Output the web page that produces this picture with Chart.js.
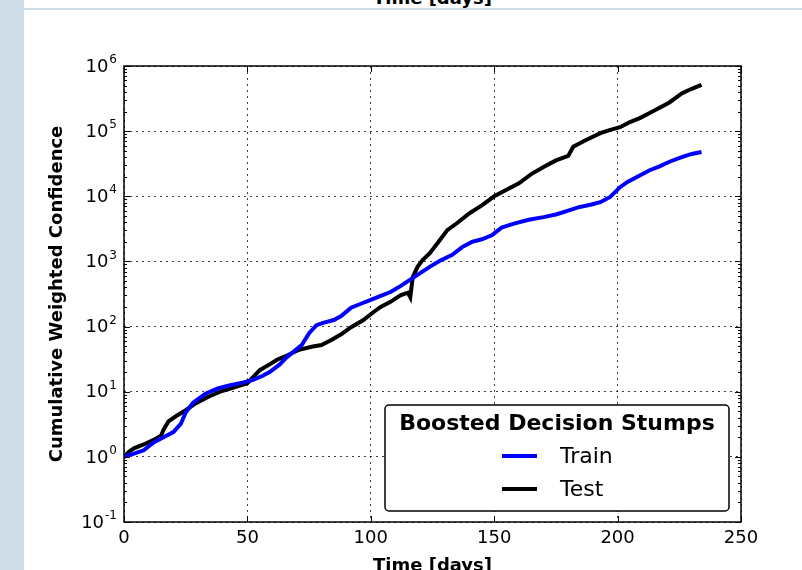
<!DOCTYPE html>
<html>
<head>
<meta charset="utf-8">
<script src="https://cdn.jsdelivr.net/npm/chart.js@4/dist/chart.umd.min.js"></script>
<style>
  html, body { margin: 0; padding: 0; background: #fff; }
  #wrap { position: relative; width: 802px; height: 570px; overflow: hidden; }
  #strip { position: absolute; left: 0; top: 0; width: 24px; height: 570px; background: #cfdde9; }
  #topline { position: absolute; left: 24px; top: 8px; width: 778px; height: 2px; background: #cfdde9; }
  #cut { position: absolute; left: 0; width: 865px; top: -13px; text-align: center;
         font: bold 18px 'DejaVu Sans'; color: #000; }
  canvas { position: absolute; left: 0; top: 0; }
</style>
</head>
<body>
<div id="wrap">
  <div id="cut">Time [days]</div>
  <div id="topline"></div>
  <div id="strip"></div>
  <canvas id="chart" width="802" height="570"></canvas>
</div>
<script>
// values
const trainDays = [0, 4, 8, 12, 16, 20, 23, 25, 28, 33, 38, 43, 48, 52, 56, 59, 63, 66, 69, 72, 75, 78, 81, 85, 88, 92, 96, 100, 104, 108, 112, 116, 120, 124, 128, 133, 137, 141, 145, 149, 153, 158, 164, 170, 175, 180, 184, 189, 193, 197, 201, 204, 208, 213, 217, 221, 226, 230, 234];
const trainValues = [1.0, 1.12, 1.26, 1.66, 2.0, 2.4, 3.2, 4.8, 6.8, 9.3, 11.2, 12.6, 13.8, 15.1, 17.4, 20, 26, 34, 42, 52, 79, 105, 115, 126, 145, 195, 224, 257, 295, 339, 417, 525, 661, 832, 1023, 1259, 1660, 1995, 2188, 2512, 3311, 3802, 4365, 4786, 5248, 6026, 6761, 7413, 8128, 9772, 13800, 16600, 19950, 25100, 28800, 33900, 39800, 44700, 47900];

const testDays = [0, 2, 4, 8, 12, 15, 16, 18, 21, 25, 29, 34, 39, 44, 50, 53, 55, 59, 62, 66, 71, 76, 80, 84, 88, 92, 97, 101, 104, 108, 112, 115, 116, 117, 119, 121, 124, 128, 131, 135, 140, 145, 150, 155, 160, 165, 170, 175, 180, 182, 187, 193, 197, 201, 205, 209, 213, 217, 221, 226, 230, 234];
const testValues = [1.0, 1.2, 1.35, 1.55, 1.82, 2.1, 2.6, 3.5, 4.2, 5.2, 6.6, 8.3, 10, 11.5, 13.5, 17.8, 21.4, 26.3, 31, 36, 44, 49, 52, 62, 76, 98, 126, 166, 200, 240, 302, 331, 282, 575, 832, 1047, 1349, 2138, 3020, 3890, 5500, 7244, 10000, 12600, 15850, 21900, 28200, 35500, 41700, 57500, 72400, 93300, 104700, 114800, 138000, 158500, 190500, 229000, 275400, 380000, 446700, 512900];

const xTicks = [0, 50, 100, 150, 200, 250];
const yExponents = [-1, 0, 1, 2, 3, 4, 5, 6];
const legendTitle = 'Boosted Decision Stumps';
const xTitle = 'Time [days]';
const yTitle = 'Cumulative Weighted Confidence';

const FONT = "'DejaVu Sans'";

function toPoints(xs, ys) {
  return xs.map((d, i) => ({ x: d, y: ys[i] }));
}

// frame, inward ticks, y labels with exponents, titles and the boxed legend
const decorations = {
  id: 'decorations',
  afterDraw(chart) {
    const { ctx, chartArea: a, scales } = chart;
    const xs = scales.x, ys = scales.y;
    ctx.save();
    ctx.strokeStyle = '#000';
    ctx.lineWidth = 1;

    // tick marks (all four sides, pointing in)
    ctx.beginPath();
    xTicks.forEach(t => {
      const px = Math.round(xs.getPixelForValue(t)) + 0.5;
      ctx.moveTo(px, a.bottom); ctx.lineTo(px, a.bottom - 6);
      ctx.moveTo(px, a.top); ctx.lineTo(px, a.top + 6);
    });
    yExponents.forEach(e => {
      for (let m = 1; m <= 9; m++) {
        const v = m * Math.pow(10, e);
        if (v > 1e6) break;
        const py = Math.round(ys.getPixelForValue(v)) + 0.5;
        const len = m === 1 ? 6 : 3;
        ctx.moveTo(a.left, py); ctx.lineTo(a.left + len, py);
        ctx.moveTo(a.right, py); ctx.lineTo(a.right - len, py);
      }
    });
    ctx.stroke();

    // frame
    ctx.lineWidth = 1.5;
    ctx.strokeRect(a.left, a.top, a.right - a.left, a.bottom - a.top);

    // y tick labels 10^n
    ctx.fillStyle = '#000';
    ctx.textBaseline = 'middle';
    ctx.textAlign = 'right';
    yExponents.forEach(e => {
      const py = ys.getPixelForValue(Math.pow(10, e));
      const exp = String(e);
      ctx.font = '12px ' + FONT;
      const ew = ctx.measureText(exp).width;
      ctx.fillText(exp, 117, py - 6);
      ctx.font = '18px ' + FONT;
      ctx.fillText('10', 117 - ew - 1, py + 1);
    });

    // axis titles
    ctx.font = 'bold 18px ' + FONT;
    ctx.textAlign = 'center';
    ctx.fillText(xTitle, (a.left + a.right) / 2, 566);
    ctx.save();
    ctx.translate(57, (a.top + a.bottom) / 2);
    ctx.rotate(-Math.PI / 2);
    ctx.fillText(yTitle, 0, 0);
    ctx.restore();

    // legend box
    const bx = 385, by = 405, bw = 344, bh = 106;
    ctx.beginPath();
    ctx.roundRect(bx, by, bw, bh, 4);
    ctx.fillStyle = '#fff';
    ctx.fill();
    ctx.lineWidth = 1.5;
    ctx.strokeStyle = '#000';
    ctx.stroke();
    ctx.fillStyle = '#000';
    ctx.font = 'bold 22px ' + FONT;
    ctx.fillText(legendTitle, bx + bw / 2, 424);
    ctx.textAlign = 'left';
    ctx.font = '22px ' + FONT;
    chart.data.datasets.forEach((ds, i) => {
      const ly = 456 + i * 33;
      ctx.strokeStyle = ds.borderColor;
      ctx.lineWidth = 4;
      ctx.beginPath();
      ctx.moveTo(502, ly); ctx.lineTo(537, ly);
      ctx.stroke();
      ctx.fillText(ds.label, 560, ly + 1);
    });
    ctx.restore();
  }
};

new Chart(document.getElementById('chart').getContext('2d'), {
  type: 'line',
  data: {
    datasets: [
      { label: 'Train', data: toPoints(trainDays, trainValues), borderColor: '#0000ff', borderWidth: 4, pointRadius: 0, tension: 0, fill: false },
      { label: 'Test', data: toPoints(testDays, testValues), borderColor: '#000000', borderWidth: 4, pointRadius: 0, tension: 0, fill: false }
    ]
  },
  options: {
    responsive: false,
    animation: false,
    layout: { padding: { left: 24, right: 61, top: 66, bottom: 0 } },
    plugins: { legend: { display: false }, tooltip: { enabled: false } },
    scales: {
      x: {
        type: 'linear', min: 0, max: 250,
        afterBuildTicks: s => { s.ticks = xTicks.map(v => ({ value: v })); },
        afterFit: s => { s.height = 48; },
        ticks: { font: { family: 'DejaVu Sans', size: 18 }, color: '#000', padding: 6, maxRotation: 0 },
        grid: { color: 'rgba(0,0,0,0.75)', lineWidth: 1, drawTicks: false },
        border: { display: false, dash: [2, 4] }
      },
      y: {
        type: 'logarithmic', min: 0.1, max: 1e6,
        afterBuildTicks: s => { s.ticks = yExponents.map(e => ({ value: Math.pow(10, e) })); },
        afterFit: s => { s.width = 100; },
        ticks: { display: false },
        grid: { color: 'rgba(0,0,0,0.75)', lineWidth: 1, drawTicks: false },
        border: { display: false, dash: [2, 4] }
      }
    }
  },
  plugins: [decorations]
});
</script>
</body>
</html>
